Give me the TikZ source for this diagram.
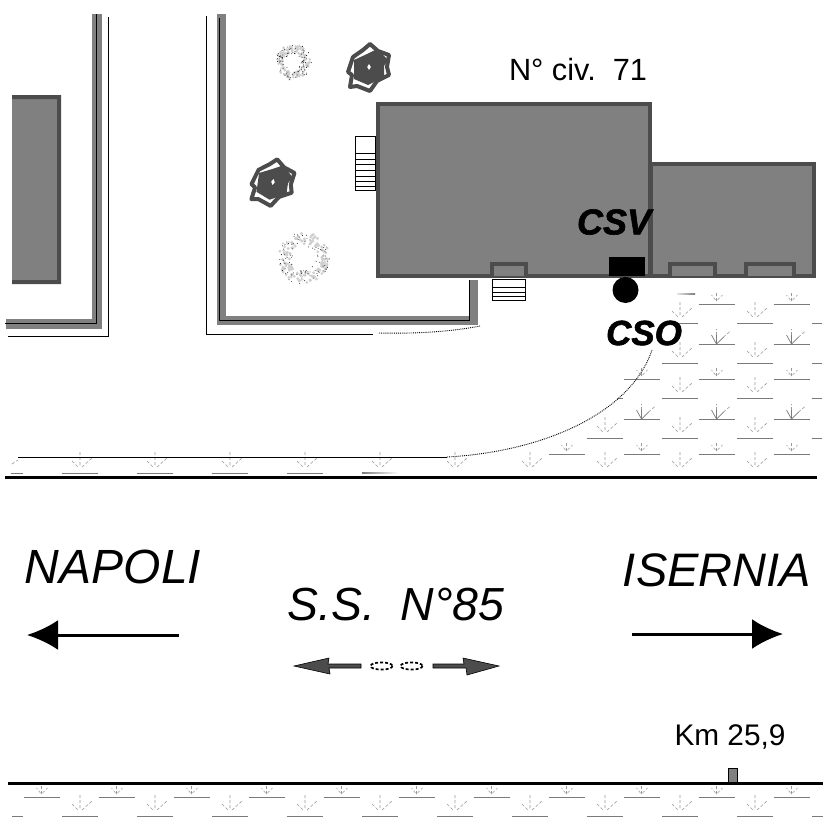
\documentclass[tikz,border=0pt]{standalone}
\usepackage{fontspec}
\setmainfont{Liberation Sans}
\newfontfamily\csfont{Liberation Sans}[BoldItalicFeatures={FakeBold=1.6}]
\usetikzlibrary{arrows.meta}
\definecolor{roof}{gray}{0.5}
\definecolor{edge}{gray}{0.3}
\definecolor{leaf}{gray}{0.48}
\definecolor{twigc}{gray}{0.6}
\tikzset{
  x=1pt,y=-1pt,
  bldg/.style={fill=roof,draw=edge,line width=3.5pt},
  bay/.style={draw=edge,line width=3.5pt,fill=roof},
  wall/.style={draw=roof,line width=6pt},
  fence/.style={draw=black,line width=0.8pt},
  road/.style={draw=black,line width=3pt},
  stepline/.style={draw=black,line width=0.7pt},
  gnd/.style={draw=leaf,line width=0.9pt},
  twig/.style={draw=twigc,line width=0.6pt,densely dashed},
  lbl/.style={inner sep=0pt,anchor=center},
  dirarrow/.style={draw=black,line width=3pt,-{Latex[length=31pt,width=30pt]}},
  track/.style={draw=black,line width=0.9pt,densely dotted},
}
\newcommand{\spS}[3]{\draw[gnd] (#1-18,#2)--(#1+#3,#2);
  \draw[twig] (#1,#2-3)--(#1,#2-11) (#1-1,#2-4)--(#1-5,#2-9) (#1+1,#2-4)--(#1+6,#2-9);}
\newcommand{\spB}[3]{\draw[gnd] (#1-18,#2)--(#1+#3,#2);
  \draw[gnd,line width=0.7pt] (#1,#2)--(#1,#2-9) (#1,#2)--(#1-5,#2-9) (#1,#2)--(#1+7,#2-7);
  \draw[twig] (#1,#2-9)--(#1,#2-15) (#1+7,#2-7)--(#1+14,#2-13);}
\newcommand{\spN}[2]{
  \draw[twig] (#1,#2-21)--(#1,#2-8) (#1-8,#2-12)--(#1-2,#2-6) (#1+2,#2-6)--(#1+12,#2-15);}
\newcommand{\spD}[3]{\draw[gnd] (#1-18,#2)--(#1+#3,#2);\spN{#1}{#2}}
\newcommand{\darktree}[4]{\begin{scope}[shift={(#1,#2)},scale=#3,rotate=#4]
  \draw[edge,line width=4pt,line join=round,fill=white] (1,-23)--(9,-16)--(20,-12)--(18,0)--(20,8)--(8,14)--(1,24)--(-12,19)--(-19,20)--(-17,8)--(-21,5)--(-16,-10)--(-6,-17)--cycle;
  \fill[edge] (-15,-7)--(-2,-13)--(8,-18)--(19,-7)--(15,-1)--(15,10)--(-1,18)--(-15,12)--cycle;
  \fill[white] (0,-3)--(1.8,0)--(0,3)--(-1.8,0)--cycle;
  \end{scope}}
\newcommand{\lighttree}[4]{\begin{scope}[shift={(#1,#2)}]
  \pgfmathsetseed{#4}
  \foreach \i in {1,...,130}{
    \pgfmathsetmacro{\a}{rnd*360}\pgfmathsetmacro{\r}{#3*(0.55+0.42*rnd)}
    \fill[gray!38] (\a:\r) circle (0.9+#3*0.025);}
  \foreach \i in {1,...,90}{
    \pgfmathsetmacro{\a}{rnd*360}\pgfmathsetmacro{\r}{#3*(0.45+0.57*rnd)}
    \fill[black] (\a:\r) circle (0.45);}
  \end{scope}}
\begin{document}
\begin{tikzpicture}
\useasboundingbox (0,0) rectangle (827,827);
\fill[white] (0,0) rectangle (827,827);
% left block and walls
\fill[roof] (12,95) rectangle (61,284);
\fill[edge] (12,95) rectangle (61,99) (57,95) rectangle (61,284) (12,280) rectangle (61,284);
\draw[wall,line width=10pt] (97,14)--(97,324)--(6,324);
\draw[fence] (96.5,14)--(96.5,323)--(5,323);
\draw[fence] (108,17)--(108,336)--(8,336);
\draw[wall,line width=9pt] (221.5,14)--(221.5,320)--(473,320)--(473,280);
\draw[fence] (219,18)--(219,320)--(469,320)--(469,280);
\draw[fence] (206.5,16)--(206.5,334)--(373,334);
\draw[track] (379,333) .. controls (420,334) and (455,331) .. (480,326);
% buildings
\draw[bldg] (651,164) rectangle (814,276);
\draw[bldg] (378,104) rectangle (650,276);
\foreach \x/\w in {492/34,670/45,746/48}{\draw[bay] (\x,276)--(\x,264)--(\x+\w,264)--(\x+\w,276);}
% stairs
\draw[stepline] (355,136) rectangle (375,190);
\foreach \y in {153,159,164,170,176,181,186}{\draw[stepline] (355,\y)--(375,\y);}
\draw[stepline] (492,279) rectangle (525,300);
\foreach \y in {287,292,296}{\draw[stepline] (492,\y)--(525,\y);}
% trees
\lighttree{293}{62}{18}{11}
\lighttree{304}{258}{26}{23}
\darktree{369}{67}{1}{0}
\darktree{273}{182}{1}{-8}
% plants, road side
\shade[left color=gray!20,right color=leaf] (677,293) rectangle (695,294);
\foreach \y in {304,379,454}{\foreach \x in {716.5,791.5}{\spS{\x}{\y}{18}}}
\foreach \y in {344,419}{\foreach \x in {716.5,791.5}{\spB{\x}{\y}{18}}}
\spS{641.5}{379}{18}\spB{641.5}{419}{18}\spS{641.5}{454}{18}\spS{566.5}{454}{18}
\foreach \y in {323,363,398,438}{\foreach \x in {680,755}{\spD{\x}{\y}{18}}}
\foreach \y in {323,363,398,438}{\draw[gnd] (812,\y)--(822,\y);}
\draw[gnd] (617,398)--(623,398);
\spD{605}{438}{18}
\foreach \x in {80,155,230,305}{\spD{\x}{473}{18}}
\spN{380}{473}
\shade[left color=leaf,right color=white] (362,472.5) rectangle (398,473.5);
\foreach \x in {455,530,605,680,755}{\spN{\x}{473}}
\draw[gnd] (11,473)--(23,473);
\draw[twig] (12,464)--(18,460);
% CSV / CSO markers
\fill[black] (609,257) rectangle (645,276);
\node[circle,fill=black,minimum size=26pt,inner sep=0pt] (cso) at (625.5,290) {};
\node[lbl,font=\csfont\bfseries\itshape,scale=3.6] (csv) at (614,222) {CSV};
\node[lbl,font=\csfont\bfseries\itshape,scale=3.5] (csol) at (644,333) {CSO};
\node[lbl,scale=3.07] (civ) at (578,70) {N° civ.\ \ 71};
% roads
\draw[fence] (18,457)--(447,457);
\draw[track] (447,457) .. controls (540,452) and (630,415) .. (652,350);
\draw[road] (5,477.5)--(817,477.5);
\draw[road] (8,783)--(823,783);
% lower plants
\foreach \x in {41.5,116.5,191.5,266.5,341.5,416.5,491.5,566.5,641.5,716.5,791.5}{\spS{\x}{797}{18}}
\foreach \x in {80,155,230,305,380,455,530,605,680,755}{\spD{\x}{816}{18}}
\draw[gnd] (812,816)--(823,816);
\draw[gnd] (12,816)--(23,816);
% labels
\node[lbl,font=\itshape,scale=4.8] (nap) at (113,567) {NAPOLI};
\node[lbl,font=\itshape,scale=4.7] (ise) at (717,570) {ISERNIA};
\node[lbl,font=\itshape,scale=4.64] (ss) at (396,605) {S.S.\ \ N°85};
\node[lbl,scale=2.98] (km) at (730,737) {Km 25,9};
% big arrows
\coordinate (nA) at (179,635); \coordinate (nB) at (27,635);
\coordinate (iA) at (632,634); \coordinate (iB) at (783,634);
\draw[dirarrow] (nA)--(nB);
\draw[dirarrow] (iA)--(iB);
% small arrows
\fill[edge,draw=black,line width=0.6pt] (361,664)--(328,664)--(329,658)--(294,666)--(330,674)--(329,668)--(361,668)--cycle;
\fill[edge,draw=black,line width=0.6pt] (433,664)--(464,664)--(463,658)--(499,666)--(467,675)--(466,668)--(433,668)--cycle;
\draw[black,line width=1.7pt,densely dashed] (381.5,666) ellipse (11 and 3.6);
\draw[black,line width=1.7pt,densely dashed] (411.5,666) ellipse (11 and 3.6);
% km marker
\draw[fill=roof,draw=black,line width=0.7pt] (728,768) rectangle (737,782);
\end{tikzpicture}
\end{document}
